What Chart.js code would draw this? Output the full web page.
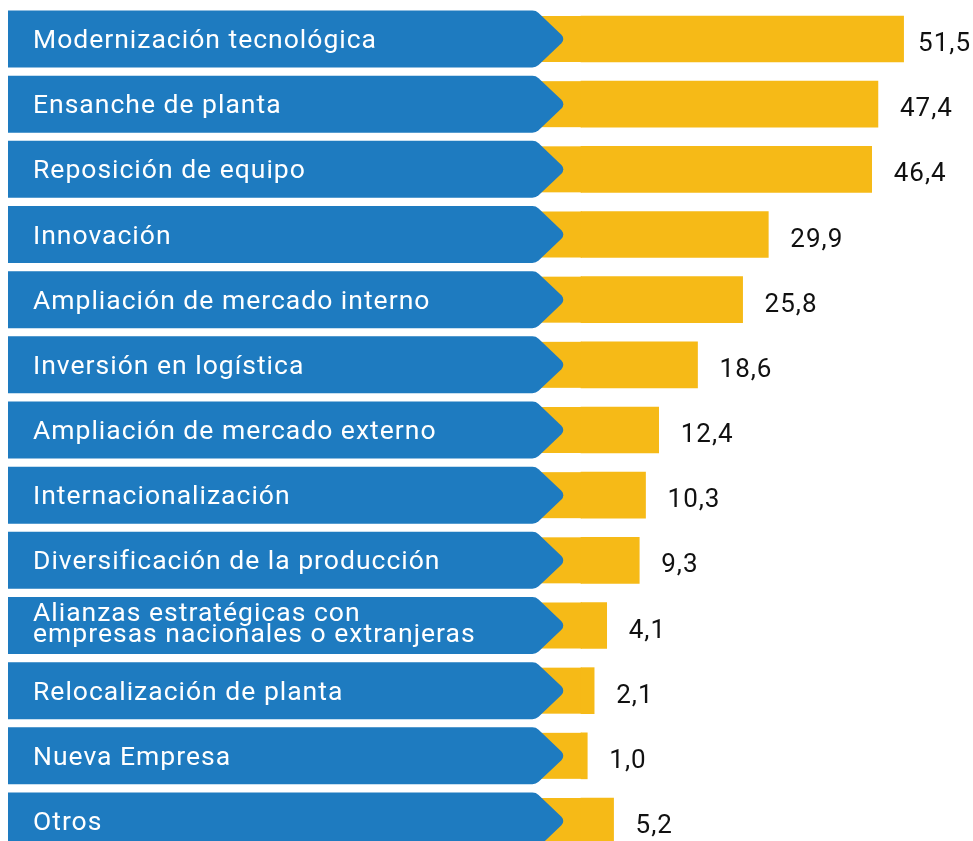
<!DOCTYPE html>
<html>
<head>
<meta charset="utf-8">
<script src="https://cdn.jsdelivr.net/npm/chart.js@4"></script>
<style>
  html, body { margin: 0; padding: 0; background: #ffffff; }
  #wrap { width: 973px; height: 841px; position: relative; }
</style>
</head>
<body>
<div id="wrap"><canvas id="c"></canvas></div>
<script>
const categories = [
  "Modernización tecnológica",
  "Ensanche de planta",
  "Reposición de equipo",
  "Innovación",
  "Ampliación de mercado interno",
  "Inversión en logística",
  "Ampliación de mercado externo",
  "Internacionalización",
  "Diversificación de la producción",
  ["Alianzas estratégicas con", "empresas nacionales o extranjeras"],
  "Relocalización de planta",
  "Nueva Empresa",
  "Otros"
];
const values = [51.5, 47.4, 46.4, 29.9, 25.8, 18.6, 12.4, 10.3, 9.3, 4.1, 2.1, 1.0, 5.2];
const valueLabels = ["51,5", "47,4", "46,4", "29,9", "25,8", "18,6", "12,4", "10,3", "9,3", "4,1", "2,1", "1,0", "5,2"];

const BLUE = "#1e7bc0";
const YELLOW = "#f6ba17";
const FONT = "Roboto";

function setSpacing(ctx, v) {
  if ("letterSpacing" in ctx) ctx.letterSpacing = v;
}

const arrowLabels = {
  id: "arrowLabels",
  beforeDatasetsDraw(chart) {
    const ctx = chart.ctx;
    const meta = chart.getDatasetMeta(0);
    const area = chart.chartArea;
    ctx.save();
    meta.data.forEach((el) => {
      const h = el.height;
      ctx.fillStyle = YELLOW;
      ctx.fillRect(540, el.y - h / 2, area.left - 540 + 1, h);
    });
    meta.data.forEach((el, i) => {
      const y = el.y;
      const top = y - 28.5, bot = y + 28.5;
      const left = 8, corner = 536, tip = 566;
      ctx.beginPath();
      ctx.moveTo(left, top);
      ctx.arcTo(corner, top, tip, y, 9);
      ctx.arcTo(tip, y, corner, bot, 6);
      ctx.arcTo(corner, bot, left, bot, 9);
      ctx.lineTo(left, bot);
      ctx.closePath();
      ctx.fillStyle = BLUE;
      ctx.fill();
      ctx.fillStyle = "#ffffff";
      ctx.font = "26.5px " + FONT;
      setSpacing(ctx, "1px");
      ctx.textAlign = "left";
      ctx.textBaseline = "alphabetic";
      const lab = chart.data.labels[i];
      if (Array.isArray(lab)) {
        ctx.fillText(lab[0], 33, y - 5);
        ctx.fillText(lab[1], 33, y + 16);
      } else {
        ctx.fillText(lab, 33, y + 9);
      }
    });
    ctx.restore();
  },
  afterDatasetsDraw(chart) {
    const ctx = chart.ctx;
    const meta = chart.getDatasetMeta(0);
    ctx.save();
    ctx.fillStyle = "#111111";
    ctx.font = "26px " + FONT;
    setSpacing(ctx, "1px");
    ctx.textAlign = "left";
    ctx.textBaseline = "alphabetic";
    meta.data.forEach((el, i) => {
      const w = ctx.measureText(valueLabels[i]).width;
      const x = Math.min(el.x + 22, chart.width - w - 2);
      ctx.fillText(valueLabels[i], x, el.y + 12);
    });
    ctx.restore();
  }
};

new Chart(document.getElementById("c"), {
  type: "bar",
  data: {
    labels: categories,
    datasets: [{
      data: values,
      backgroundColor: YELLOW,
      borderWidth: 0,
      barThickness: 46,
      clip: false
    }]
  },
  options: {
    indexAxis: "y",
    responsive: true,
    maintainAspectRatio: false,
    animation: false,
    layout: { padding: { left: 581, right: 8, top: 39, bottom: 20 } },
    plugins: { legend: { display: false }, tooltip: { enabled: false } },
    scales: {
      x: { display: false, min: 0, max: 61.3, grid: { display: false } },
      y: { display: false, offset: false, grid: { display: false } }
    }
  },
  plugins: [arrowLabels]
});
</script>
</body>
</html>
